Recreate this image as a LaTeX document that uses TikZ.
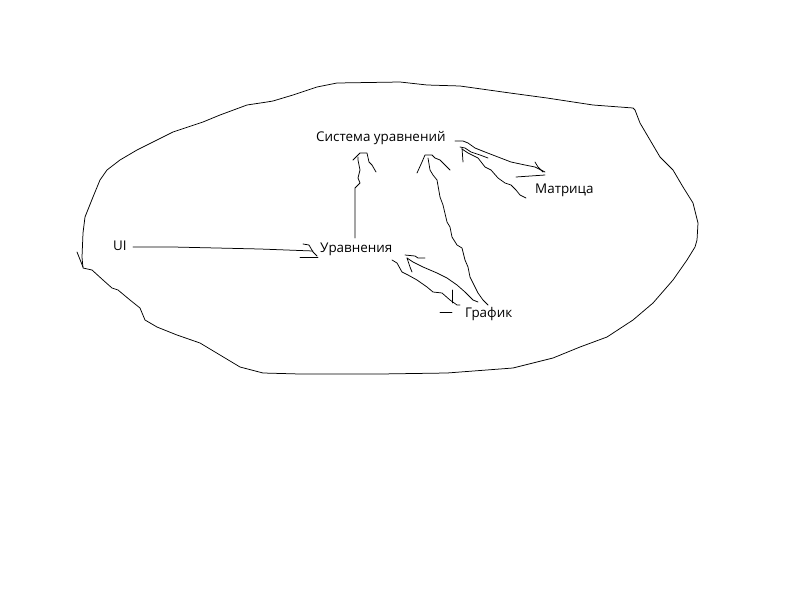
\documentclass[tikz,border=0pt]{standalone}
\usepackage{fontspec}
\setmainfont{Open Sans}
\usepackage{tikz}
\usetikzlibrary{calc}

\tikzset{
  hand/.style={line width=0.75pt, line join=round, line cap=round},
  lbl/.style={inner sep=0pt, anchor=base west, font=\fontsize{13.4}{16}\selectfont}
}

\begin{document}
\begin{tikzpicture}[x=1pt,y=-1pt]
  \useasboundingbox[fill=white] (0,0) rectangle (800,600);
  % outline
  \draw[hand] (83,268) -- (82,257) -- (83,233) -- (85,217) -- (93,197) -- (100,180)
    -- (107,170) -- (120,160) -- (137,150) -- (157,140) -- (173,132) -- (203,122)
    -- (220,115) -- (247,105) -- (267,102) -- (273,101) -- (293,95) -- (317,87)
    -- (337,83) -- (400,82) -- (427,85) -- (460,86) -- (510,93) -- (547,98)
    -- (593,105) -- (633,108) -- (635,110) -- (640,123) -- (650,140) -- (660,157)
    -- (673,170) -- (683,187) -- (693,203) -- (698,223) -- (697,240) -- (695,247)
    -- (687,260) -- (673,280) -- (653,303) -- (633,320) -- (607,337) -- (580,347)
    -- (553,358) -- (513,368) -- (447,373) -- (380,374) -- (300,374) -- (263,373)
    -- (240,367) -- (220,355) -- (200,343) -- (177,335) -- (157,327) -- (145,320)
    -- (140,308) -- (130,300) -- (118,290) -- (112,288) -- (103,280) -- (92,270)
    -- cycle;
  \draw[hand] (77,252) -- (83,267);
  % labels
  \node[lbl] (sys) at (316,141) {Система уравнений};
  \node[lbl] (matr) at (535,193) {Матрица};
  \node[lbl] (ui) at (113,250) {UI};
  \node[lbl] (eq) at (320,252) {Уравнения};
  \node[lbl] (graph) at (465,317) {График};
  % UI -> equations
  \draw[hand] (133,247) -- (173,247) -- (260,249) -- (313,251);
  \draw[hand] (303,244) -- (309,245) -- (313,252) -- (317,256);
  \draw[hand] (300,257) -- (318,257);
  % equations -> system
  \draw[hand] (355,238) -- (355,188) -- (360,183) -- (358,178) -- (360,170)
    -- (358,160) -- (358,157);
  \draw[hand] (353,160) -- (360,153) -- (367,153) -- (369,162) -- (372,165) -- (376,172);
  % plot -> system
  \draw[hand] (488,305) -- (483,300) -- (478,293) -- (475,287) -- (470,277)
    -- (468,267) -- (465,260) -- (462,248) -- (457,245) -- (452,237) -- (450,227)
    -- (447,222) -- (443,205) -- (440,197) -- (437,180) -- (433,175) -- (430,170)
    -- (428,158);
  \draw[hand] (417,173) -- (422,162) -- (425,155) -- (432,155) -- (435,158)
    -- (440,160) -- (445,165) -- (450,170);
  % equations -> plot
  \draw[hand] (392,260) -- (397,263) -- (402,272) -- (408,275) -- (417,280)
    -- (427,287) -- (433,292) -- (442,293) -- (450,300) -- (457,305) -- (460,305);
  \draw[hand] (452,290) -- (452,303);
  \draw[hand] (440,312) -- (452,312);
  % plot -> equations
  \draw[hand] (478,302) -- (473,300) -- (465,292) -- (457,285) -- (447,278)
    -- (437,273) -- (423,267) -- (413,262) -- (407,258);
  \draw[hand] (405,255) -- (415,256) -- (418,258) -- (425,258);
  \draw[hand] (407,258) -- (410,267) -- (412,272);
  % system -> matrix
  \draw[hand] (455,141) -- (463,141) -- (468,143) -- (475,148) -- (485,152)
    -- (498,157) -- (511,162) -- (525,165) -- (535,167) -- (545,172);
  \draw[hand] (535,162) -- (538,167) -- (543,172);
  \draw[hand] (516,177) -- (545,175);
  % matrix -> system
  \draw[hand] (526,198) -- (520,195) -- (516,190) -- (511,185) -- (505,183)
    -- (498,178) -- (491,170) -- (485,167) -- (478,158) -- (468,153) -- (462,149);
  \draw[hand] (460,147) -- (465,148) -- (471,152) -- (480,155) -- (488,158);
  \draw[hand] (462,148) -- (463,162);
\end{tikzpicture}
\end{document}
